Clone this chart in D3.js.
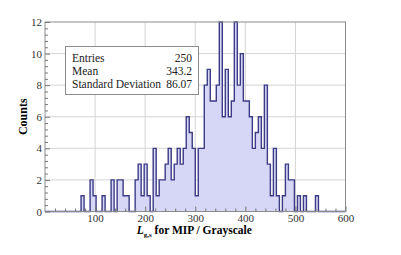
<!DOCTYPE html>
<html>
<head>
<meta charset="utf-8">
<script src="https://cdn.jsdelivr.net/npm/d3@7"></script>
<style>
body { margin: 0; background: #fff; }
svg { display: block; }
</style>
</head>
<body>
<div id="chart"></div>
<script>
const binWidth = 6;
// counts per bin, bins of 6 from 0 to 600
const counts = [
    0, 0, 0, 0, 0, 0, 0, 0, 0, 0,
    0, 0, 1, 0, 0, 2, 1, 0, 0, 1,
    0, 0, 2, 0, 2, 2, 1, 1, 0, 0,
    2, 3, 1, 3, 1, 0, 4, 1, 2, 2,
    3, 4, 2, 3, 4, 3, 4, 6, 5, 4,
    1, 4, 4, 8, 9, 7, 7, 8, 12, 6,
    9, 6, 7, 12, 8, 10, 7, 7, 6, 4,
    5, 6, 4, 8, 3, 1, 4, 1, 0, 1,
    3, 2, 2, 0, 1, 0, 1, 0, 0, 0,
    1, 0, 0, 0, 0, 0, 0, 0, 0, 0
];
const xTicks = [100, 200, 300, 400, 500, 600];
const yTicks = [0, 2, 4, 6, 8, 10, 12];
const statLabels = ["Entries", "Mean", "Standard Deviation"];
const statValues = ["250", "343.2", "86.07"];

const width = 401, height = 255;
const marginLeft = 45, marginRight = 55.5, marginTop = 22, marginBottom = 43.5;
const font = "'Liberation Serif', 'Times New Roman', serif";

const svg = d3.select("#chart").append("svg")
    .attr("width", width)
    .attr("height", height);

const x = d3.scaleLinear().domain([0, 600]).range([marginLeft, width - marginRight]);
const y = d3.scaleLinear().domain([0, 12]).range([height - marginBottom, marginTop]);

// grid
svg.append("g").selectAll("line")
    .data(xTicks.slice(0, -1))
    .enter().append("line")
    .attr("x1", d => x(d)).attr("x2", d => x(d))
    .attr("y1", y(0)).attr("y2", y(12))
    .style("stroke", "#d4d4d4").style("stroke-width", 1);

svg.append("g").selectAll("line")
    .data(yTicks.slice(1, -1))
    .enter().append("line")
    .attr("x1", x(0)).attr("x2", x(600))
    .attr("y1", d => y(d)).attr("y2", d => y(d))
    .style("stroke", "#d4d4d4").style("stroke-width", 1);

// histogram as a step outline
const pts = [[0, 0]];
counts.forEach((c, i) => {
    pts.push([i * binWidth, c]);
    pts.push([(i + 1) * binWidth, c]);
});
pts.push([600, 0]);

svg.append("path")
    .datum(pts)
    .attr("d", d3.area().x(d => x(d[0])).y0(y(0)).y1(d => y(d[1])))
    .attr("fill", "#d6d6f6");

svg.append("path")
    .datum(pts)
    .attr("d", d3.line().x(d => x(d[0])).y(d => y(d[1])))
    .attr("fill", "none")
    .style("stroke", "#3b3b86")
    .style("stroke-width", 1.4);

// frame
svg.append("rect")
    .attr("x", x(0)).attr("y", y(12))
    .attr("width", x(600) - x(0)).attr("height", y(0) - y(12))
    .attr("fill", "none")
    .style("stroke", "#8c8c8c").style("stroke-width", 1);

// axes, ticks pointing inside
function styleAxis(g) {
    g.select(".domain").remove();
    g.selectAll("line").style("stroke", "#777");
    g.selectAll("text")
        .style("font-family", font)
        .style("font-size", "11px")
        .style("fill", "#333");
}

svg.append("g")
    .attr("transform", `translate(0,${y(0)})`)
    .call(d3.axisBottom(x).tickValues(xTicks).tickSizeInner(-5).tickSizeOuter(0).tickPadding(3))
    .call(styleAxis);

svg.append("g")
    .attr("transform", `translate(0,${y(0)})`)
    .call(d3.axisBottom(x).tickValues(d3.range(20, 600, 20).filter(v => v % 100 !== 0))
        .tickSizeInner(-3).tickSizeOuter(0).tickFormat(""))
    .call(styleAxis);

svg.append("g")
    .attr("transform", `translate(${x(0)},0)`)
    .call(d3.axisLeft(y).tickValues(yTicks).tickSizeInner(-5).tickSizeOuter(0).tickPadding(3))
    .call(styleAxis);

svg.append("g")
    .attr("transform", `translate(${x(0)},0)`)
    .call(d3.axisLeft(y).tickValues(d3.range(0.4, 12, 0.4).filter(v => Math.abs(v / 2 - Math.round(v / 2)) > 0.01))
        .tickSizeInner(-3).tickSizeOuter(0).tickFormat(""))
    .call(styleAxis);

// axis labels
svg.append("text")
    .attr("transform", `translate(27,${y(6)}) rotate(-90)`)
    .style("text-anchor", "middle")
    .style("font-family", font)
    .style("font-size", "12px")
    .style("font-weight", "bold")
    .text("Counts");

const xl = svg.append("text")
    .attr("x", x(300) - 1)
    .attr("y", 234)
    .style("text-anchor", "middle")
    .style("font-family", font)
    .style("font-size", "11.5px")
    .style("font-weight", "bold");
xl.append("tspan").style("font-style", "italic").text("L");
xl.append("tspan").attr("dy", 2.5).style("font-size", "7px").text("g,s");
xl.append("tspan").attr("dy", -2.5).text(" for MIP / Grayscale");

// stats box
const box = svg.append("g").attr("class", "stats");
box.append("rect")
    .attr("x", 65.5).attr("y", 46.5)
    .attr("width", 133).attr("height", 48)
    .attr("fill", "#fff")
    .style("stroke", "#8c8c8c").style("stroke-width", 1);

box.selectAll(".slabel")
    .data(statLabels)
    .enter().append("text")
    .attr("class", "slabel")
    .attr("x", 72)
    .attr("y", (d, i) => 62 + i * 13)
    .style("font-family", font)
    .style("font-size", "11.5px")
    .style("fill", "#222")
    .text(d => d);

box.selectAll(".svalue")
    .data(statValues)
    .enter().append("text")
    .attr("class", "svalue")
    .attr("x", 192)
    .attr("y", (d, i) => 62 + i * 13)
    .style("text-anchor", "end")
    .style("font-family", font)
    .style("font-size", "11.5px")
    .style("fill", "#222")
    .text(d => d);
</script>
</body>
</html>
